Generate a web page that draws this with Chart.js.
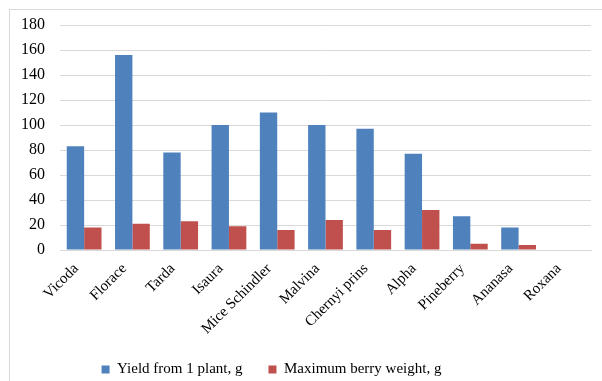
<!DOCTYPE html>
<html>
<head>
<meta charset="utf-8">
<script src="https://cdn.jsdelivr.net/npm/chart.js@4.4.1/dist/chart.umd.min.js"></script>
<style>
  body { margin: 0; background: #fff; }
  #frame { position: absolute; left: 9px; top: 9px; width: 620px; height: 400px;
           border-left: 1px solid #d9d9d9; border-top: 1px solid #d9d9d9; }
  #wrap { position: absolute; left: 0; top: 0; width: 602px; height: 381px; }
</style>
</head>
<body>
<div id="frame"></div>
<div id="wrap"><canvas id="yield-chart"></canvas></div>
<script>
const varieties = ['Vicoda', 'Florace', 'Tarda', 'Isaura', 'Mice Schindler', 'Malvina',
                   'Chernyi prins', 'Alpha', 'Pineberry', 'Ananasa', 'Roxana'];
const yieldPerPlant = [83, 156, 78, 100, 110, 100, 97, 77, 27, 18, 0];
const maxBerryWeight = [18, 21, 23, 19, 16, 24, 16, 32, 5, 4, 0];
const yTicks = [0, 20, 40, 60, 80, 100, 120, 140, 160, 180];

const serif = 'Liberation Serif, Times New Roman, serif';

// nudge the legend a bit left of the canvas centre
const legendShift = {
    id: 'legendShift',
    afterLayout(chart) {
        chart.legend.left -= 24;
        chart.legend.right -= 24;
    }
};

const ctx = document.getElementById('yield-chart').getContext('2d');
const yieldChart = new Chart(ctx, {
    type: 'bar',
    data: {
        labels: varieties,
        datasets: [{
            label: 'Yield from 1 plant, g',
            data: yieldPerPlant,
            backgroundColor: '#4f81bd',
            borderWidth: 0
        }, {
            label: 'Maximum berry weight, g',
            data: maxBerryWeight,
            backgroundColor: '#c0504d',
            borderWidth: 0
        }]
    },
    options: {
        responsive: true,
        maintainAspectRatio: false,
        animation: false,
        layout: { padding: { top: 25, right: 11, left: 0, bottom: -6 } },
        datasets: { bar: { categoryPercentage: 0.72, barPercentage: 1 } },
        plugins: {
            tooltip: { enabled: false },
            legend: {
                position: 'bottom',
                labels: {
                    boxWidth: 8, boxHeight: 8, padding: 26,
                    color: '#000',
                    font: { family: serif, size: 15 }
                }
            }
        },
        scales: {
            x: {
                grid: { display: false },
                border: { color: '#d9d9d9' },
                ticks: {
                    minRotation: 45, maxRotation: 45, padding: 2, labelOffset: -8,
                    color: '#000',
                    font: { family: serif, size: 15 }
                },
                afterFit: s => { s.height = 86; }
            },
            y: {
                min: 0, max: 180,
                afterBuildTicks: s => { s.ticks = yTicks.map(v => ({ value: v })); },
                grid: { color: '#d9d9d9', drawTicks: false, lineWidth: 1 },
                border: { display: false },
                ticks: {
                    padding: 15,
                    color: '#000',
                    font: { family: serif, size: 16 }
                },
                afterFit: s => { s.width = 60; }
            }
        }
    },
    plugins: [legendShift]
});
</script>
</body>
</html>
